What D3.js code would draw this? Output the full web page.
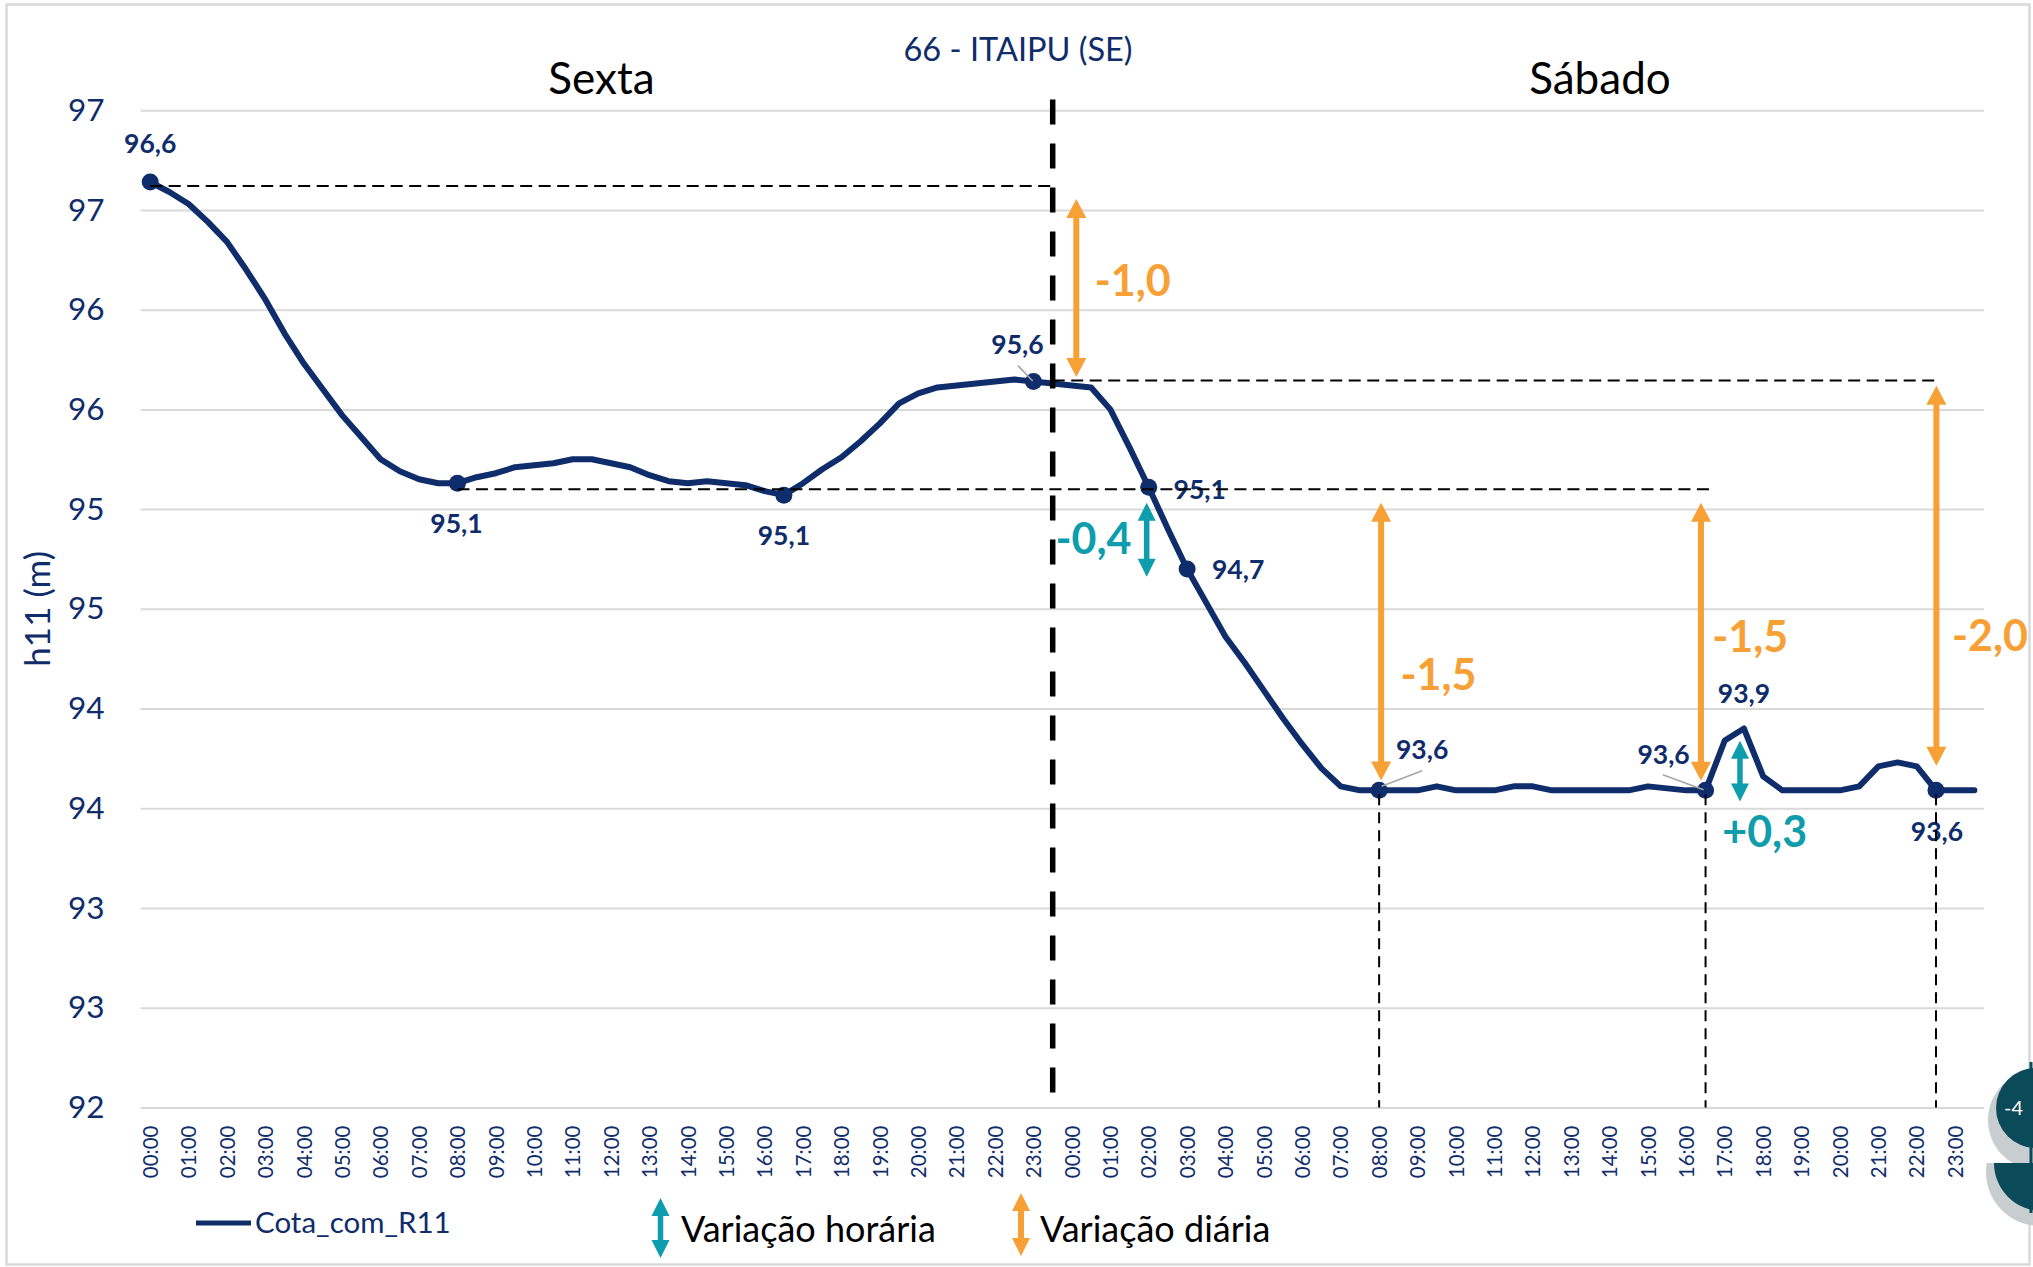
<!DOCTYPE html>
<html>
<head>
<meta charset="utf-8">
<script src="https://cdn.jsdelivr.net/npm/d3@7"></script>
<style>
  html, body { margin: 0; padding: 0; background: #ffffff; }
  svg { display: block; }
  text { font-family: Lato, "Open Sans", sans-serif; }
</style>
</head>
<body>
<svg id="chart" width="2033" height="1267"></svg>
<script>
// ---------------- data ----------------
const chartTitle = "66 - ITAIPU (SE)";
const yTitle = "h11 (m)";
const seriesName = "Cota_com_R11";
const days = ["Sexta", "Sábado"];
const slots = ["00:00","00:30","01:00","01:30","02:00","02:30","03:00","03:30","04:00","04:30",
  "05:00","05:30","06:00","06:30","07:00","07:30","08:00","08:30","09:00","09:30",
  "10:00","10:30","11:00","11:30","12:00","12:30","13:00","13:30","14:00","14:30",
  "15:00","15:30","16:00","16:30","17:00","17:30","18:00","18:30","19:00","19:30",
  "20:00","20:30","21:00","21:30","22:00","22:30","23:00","23:30"];

// Reservoir level (m), half-hourly
const cotaSexta = [96.64, 96.59, 96.53, 96.44, 96.34, 96.20, 96.05, 95.88, 95.73, 95.60,
  95.47, 95.36, 95.25, 95.19, 95.15, 95.13, 95.13, 95.16, 95.18, 95.21,
  95.22, 95.23, 95.25, 95.25, 95.23, 95.21, 95.17, 95.14, 95.13, 95.14,
  95.13, 95.12, 95.09, 95.07, 95.13, 95.20, 95.26, 95.34, 95.43, 95.53,
  95.58, 95.61, 95.62, 95.63, 95.64, 95.65, 95.64, 95.63];
const cotaSabado = [95.62, 95.61, 95.50, 95.31, 95.11, 94.90, 94.70, 94.53, 94.36, 94.23,
  94.09, 93.95, 93.82, 93.70, 93.61, 93.59, 93.59, 93.59, 93.59, 93.61,
  93.59, 93.59, 93.59, 93.61, 93.61, 93.59, 93.59, 93.59, 93.59, 93.59,
  93.61, 93.60, 93.59, 93.59, 93.84, 93.90, 93.66, 93.59, 93.59, 93.59,
  93.59, 93.61, 93.71, 93.73, 93.71, 93.59, 93.59, 93.59];

const yTicks = [92, 92.5, 93, 93.5, 94, 94.5, 95, 95.5, 96, 96.5, 97];

// Highlighted readings (position in the two-day sequence)
const markedPoints = [0, 16, 33, 46, 52, 54, 64, 81, 93];
const labelOnlyPoints = [83];

// Variations between highlighted levels
const dailyVariation = [
  { slot: 48, from: 96.6, to: 95.6 },
  { slot: 64, from: 95.1, to: 93.6 },
  { slot: 81, from: 95.1, to: 93.6 },
  { slot: 93, from: 95.6, to: 93.6 }
];
const hourlyVariation = [
  { slot: 52, from: 95.1, to: 94.7 },
  { slot: 83, from: 93.6, to: 93.9 }
];

// Dashed guide lines: horizontal (level between two slots) and vertical drops
const guideLevels = [
  { level: 96.62, start: 0, end: 47 },
  { level: 95.10, start: 16, end: 81.25 },
  { level: 95.645, start: 47, end: 93 }
];
const guideDrops = [64, 81, 93];
const dayBreak = 47;

// ---------------- layout ----------------
const PLOT = { left: 140.6, right: 1984, top: 110.2, bottom: 1107.5 };
const NAVY = "#0f2c6b", ORANGE = "#f7a035", TEAL = "#0e9dad", GRID = "#d9d9d9";

// label placement around each highlighted point: [dx, dy] of label centre, optional leader
const pointLabelLayout = {
  0: { dx: 0, dy: -38 }, 16: { dx: -1, dy: 41 }, 33: { dx: 0, dy: 41 },
  46: { dx: -16, dy: -37, leader: [-15.6, -15.8, -0.8, -0.5] },
  52: { dx: 51, dy: 3 }, 54: { dx: 51, dy: 1 },
  64: { dx: 43, dy: -41, leader: [43, -19.7, 2.5, -4] },
  81: { dx: -42, dy: -36, leader: [-42.8, -15.7, -2, -0.7] },
  83: { dx: 0, dy: -35 }, 93: { dx: 1, dy: 41 }
};
// arrow placement: horizontal shift, tip insets from the levels, label offset
const dailyLayout = [
  { dx: 4.4, insetHi: 9, insetLo: 12.5, labelDx: 60.8, labelDy: -7 },
  { dx: 2, insetHi: 13.5, insetLo: 7.8, labelDx: 59.4, labelDy: 33.3 },
  { dx: -4.6, insetHi: 13.7, insetLo: 7.5, labelDx: 44.6, labelDy: -4.6 },
  { dx: 0.4, insetHi: -3.7, insetLo: 22.5, labelDx: 54, labelDy: 60 }
];
const hourlyLayout = [
  { dx: -2, insetHi: 13.5, insetLo: -7.7, labelDx: -55.3, labelDy: -0.7 },
  { dx: -4, insetHi: 12.3, insetLo: -13.2, labelDx: 20.7, labelDy: 60.3 }
];

const values = cotaSexta.concat(cotaSabado);
const categories = days.flatMap(d => slots.map(s => d + " " + s));

const svg = d3.select("#chart");

const x = d3.scalePoint()
  .domain(d3.range(categories.length))
  .range([PLOT.left, PLOT.right])
  .padding(0.5);
const xAt = t => x(0) + t * x.step();
const y = d3.scaleLinear().domain([92, 97]).range([PLOT.bottom, PLOT.top]);

const fmt1 = v => v.toFixed(1).replace(".", ",");
const fmtDelta = v => (v > 0 ? "+" : "") + fmt1(v);

// outer frame
svg.append("rect")
  .attr("x", 6.5).attr("y", 4.5).attr("width", 2023).attr("height", 1260)
  .attr("fill", "#fff").attr("stroke", GRID).attr("stroke-width", 2.5);

// gridlines
const grid = svg.append("g")
  .attr("transform", `translate(${PLOT.left},0)`)
  .call(d3.axisLeft(y).tickValues(yTicks).tickSize(-(PLOT.right - PLOT.left)).tickFormat(""));
grid.select(".domain").remove();
grid.selectAll(".tick line").attr("stroke", GRID).attr("stroke-width", 2);

// y axis labels
const yAxis = svg.append("g")
  .attr("transform", `translate(${PLOT.left},0)`)
  .call(d3.axisLeft(y).tickValues(yTicks).tickSize(0).tickPadding(36)
    .tickFormat(v => String(Math.round(v))));
yAxis.select(".domain").remove();
yAxis.selectAll("text")
  .attr("fill", NAVY).style("font-size", "31.5px").style("font-family", "Lato, sans-serif");

// x axis labels (every full hour)
const xAxis = svg.append("g")
  .attr("transform", `translate(0,${PLOT.bottom})`)
  .call(d3.axisBottom(x)
    .tickValues(x.domain().filter(i => slots[i % slots.length].endsWith(":00")))
    .tickSize(0)
    .tickFormat(i => slots[i % slots.length]));
xAxis.select(".domain").remove();
xAxis.selectAll("text")
  .attr("transform", "rotate(-90)")
  .attr("text-anchor", "end")
  .attr("x", -18).attr("y", 0).attr("dy", "0.35em")
  .attr("fill", NAVY).style("font-size", "20.5px").style("font-family", "Lato, sans-serif");

// y axis title
svg.append("text")
  .attr("transform", `translate(38,${(PLOT.top + PLOT.bottom) / 2}) rotate(-90)`)
  .attr("text-anchor", "middle").attr("dy", "0.35em")
  .attr("fill", NAVY).style("font-size", "35px")
  .text(yTitle);

// title and day headings
svg.append("text")
  .attr("x", 1018).attr("y", 61)
  .attr("text-anchor", "middle").attr("fill", NAVY).style("font-size", "32.5px")
  .text(chartTitle);
const dayCentres = [23.5, 75.5];
svg.selectAll(".day").data(days).join("text")
  .attr("class", "day")
  .attr("x", (d, i) => xAt(dayCentres[i])).attr("y", 94)
  .attr("text-anchor", "middle").attr("fill", "#000").style("font-size", "44px")
  .text(d => d);

// series line
svg.append("path")
  .datum(values)
  .attr("fill", "none").attr("stroke", NAVY).attr("stroke-width", 6)
  .attr("stroke-linejoin", "round").attr("stroke-linecap", "round")
  .attr("d", d3.line().x((d, i) => x(i)).y(d => y(d)));

// markers
svg.selectAll(".mk").data(markedPoints).join("circle")
  .attr("class", "mk")
  .attr("cx", i => x(i)).attr("cy", i => y(values[i])).attr("r", 8.5)
  .attr("fill", NAVY);

// leader lines
svg.selectAll(".leader").data(markedPoints.filter(i => pointLabelLayout[i].leader)).join("line")
  .attr("class", "leader")
  .attr("x1", i => x(i) + pointLabelLayout[i].leader[0])
  .attr("y1", i => y(values[i]) + pointLabelLayout[i].leader[1])
  .attr("x2", i => x(i) + pointLabelLayout[i].leader[2])
  .attr("y2", i => y(values[i]) + pointLabelLayout[i].leader[3])
  .attr("stroke", "#a6a6a6").attr("stroke-width", 1.6);

// value labels
svg.selectAll(".vl").data(markedPoints.concat(labelOnlyPoints)).join("text")
  .attr("class", "vl")
  .attr("x", i => x(i) + pointLabelLayout[i].dx)
  .attr("y", i => y(values[i]) + pointLabelLayout[i].dy)
  .attr("dy", "0.35em").attr("text-anchor", "middle")
  .attr("fill", NAVY).style("font-size", "26.5px").style("font-weight", "700")
  .text(i => fmt1(values[i]));

// dashed guides
const guides = svg.append("g").attr("stroke", "#000").attr("fill", "none");
guides.selectAll(".gh").data(guideLevels).join("line")
  .attr("x1", d => xAt(d.start)).attr("x2", d => xAt(d.end))
  .attr("y1", d => y(d.level)).attr("y2", d => y(d.level))
  .attr("stroke-width", 2).attr("stroke-dasharray", "12,6.5");
guides.selectAll(".gv").data(guideDrops).join("line")
  .attr("x1", i => x(i)).attr("x2", i => x(i))
  .attr("y1", i => y(values[i]) + 4).attr("y2", PLOT.bottom)
  .attr("stroke-width", 2).attr("stroke-dasharray", "11,7");
guides.append("line")
  .attr("x1", x(dayBreak)).attr("x2", x(dayBreak))
  .attr("y1", PLOT.top - 10.7).attr("y2", PLOT.bottom)
  .attr("stroke-width", 5.5).attr("stroke-dasharray", "25,19");

// double-headed arrow
function arrow(g, ax, yTop, yBot, color, shaft, headW, headL) {
  g.append("line")
    .attr("x1", ax).attr("x2", ax)
    .attr("y1", yTop + headL - 1).attr("y2", yBot - headL + 1)
    .attr("stroke", color).attr("stroke-width", shaft);
  g.append("path")
    .attr("d", `M${ax},${yTop}L${ax - headW / 2},${yTop + headL}L${ax + headW / 2},${yTop + headL}Z` +
               `M${ax},${yBot}L${ax - headW / 2},${yBot - headL}L${ax + headW / 2},${yBot - headL}Z`)
    .attr("fill", color);
}

function variation(list, layout, color, shaft, headW, headL) {
  const g = svg.append("g");
  list.forEach((v, k) => {
    const L = layout[k];
    const hi = Math.max(v.from, v.to), lo = Math.min(v.from, v.to);
    const ax = x(v.slot) + L.dx;
    const yTop = y(hi) + L.insetHi, yBot = y(lo) - L.insetLo;
    arrow(g, ax, yTop, yBot, color, shaft, headW, headL);
    g.append("text")
      .attr("x", x(v.slot) + L.labelDx)
      .attr("y", (yTop + yBot) / 2 + L.labelDy)
      .attr("dy", "0.35em").attr("text-anchor", "middle")
      .attr("fill", color).style("font-size", "43px").style("font-weight", "700")
      .text(fmtDelta(v.to - v.from));
  });
}
variation(dailyVariation, dailyLayout, ORANGE, 6, 20, 19);
variation(hourlyVariation, hourlyLayout, TEAL, 5.5, 18, 18);

// legend
const lg = svg.append("g");
lg.append("line").attr("x1", 196).attr("x2", 251).attr("y1", 1223).attr("y2", 1223)
  .attr("stroke", NAVY).attr("stroke-width", 5);
lg.append("text").attr("x", 255).attr("y", 1223).attr("dy", "0.35em")
  .attr("fill", NAVY).style("font-size", "29.5px").text(seriesName);
arrow(lg, 660.5, 1198, 1258, TEAL, 5.5, 18, 18);
lg.append("text").attr("x", 681).attr("y", 1229).attr("dy", "0.35em")
  .attr("fill", "#000").style("font-size", "36px").text("Variação horária");
arrow(lg, 1021, 1193, 1256, ORANGE, 6, 18, 18);
lg.append("text").attr("x", 1040).attr("y", 1229).attr("dy", "0.35em")
  .attr("fill", "#000").style("font-size", "36px").text("Variação diária");

// badge peeking in at the right edge
const bd = svg.append("g");
bd.append("circle").attr("cx", 2038).attr("cy", 1120).attr("r", 50).attr("fill", "#c8cdd0");
bd.append("circle").attr("cx", 2036).attr("cy", 1108).attr("r", 40).attr("fill", "#0b4a59");
bd.append("text").attr("x", 2004).attr("y", 1108).attr("dy", "0.35em")
  .attr("fill", "#fff").style("font-size", "20px").text("-4");
bd.append("clipPath").attr("id", "lowcut").append("rect")
  .attr("x", 1970).attr("y", 1163).attr("width", 80).attr("height", 80);
const low = bd.append("g").attr("clip-path", "url(#lowcut)");
low.append("circle").attr("cx", 2040).attr("cy", 1172).attr("r", 54).attr("fill", "#c8cdd0");
low.append("circle").attr("cx", 2042).attr("cy", 1163).attr("r", 48).attr("fill", "#0b4a59");
bd.append("line").attr("x1", 2031).attr("x2", 2031).attr("y1", 1062).attr("y2", 1213)
  .attr("stroke", "#0b4a59").attr("stroke-width", 3);
</script>
</body>
</html>
